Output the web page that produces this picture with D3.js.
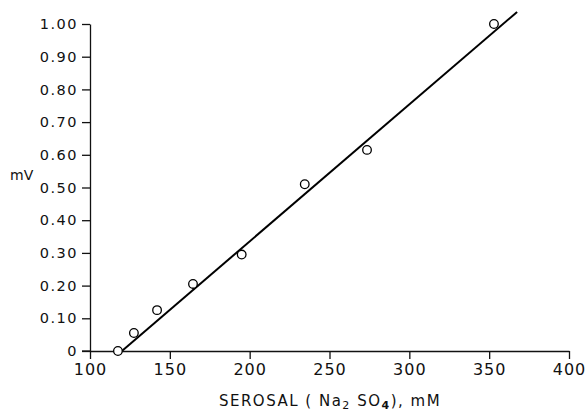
<!DOCTYPE html>
<html>
<head>
<meta charset="utf-8">
<script src="https://cdn.jsdelivr.net/npm/d3@7"></script>
<style>
  body { margin: 0; background: #fff; }
  svg text { font-family: "DejaVu Sans", sans-serif; fill: #111; }
</style>
</head>
<body>
<div id="chart"></div>
<script>
// measured points, serosal Na2SO4 (mM) vs potential (mV)
var conc = [117.5, 127.5, 142, 164.5, 195, 234.5, 273.5, 353];
var mv = [0, 0.055, 0.125, 0.205, 0.295, 0.51, 0.615, 1.00];

// hand-drawn fit line end points
var fitX = [120, 367.5];
var fitY = [0, 1.037];

var xTicks = [100, 150, 200, 250, 300, 350, 400];
var yTicks = [0, 0.1, 0.2, 0.3, 0.4, 0.5, 0.6, 0.7, 0.8, 0.9, 1.0];

var width = 588, height = 413;
var margin = {top: 24, right: 19, bottom: 62, left: 90};

var svg = d3.select('#chart')
  .append('svg')
  .attr('width', width)
  .attr('height', height);

var x = d3.scaleLinear().domain([100, 400]).range([margin.left, width - margin.right]);
var y = d3.scaleLinear().domain([0, 1]).range([height - margin.bottom, margin.top]);

var xAxis = svg.append('g')
  .attr('transform', 'translate(0,' + y(0) + ')')
  .call(d3.axisBottom(x).tickValues(xTicks).tickSize(8).tickSizeOuter(0).tickPadding(5)
    .tickFormat(d3.format('d')));

var yAxis = svg.append('g')
  .attr('transform', 'translate(' + x(100) + ',0)')
  .call(d3.axisLeft(y).tickValues(yTicks).tickSize(8).tickSizeOuter(0).tickPadding(4)
    .tickFormat(function (d) { return d === 0 ? '0' : d.toFixed(2); }));

svg.selectAll('.domain, .tick line')
  .attr('stroke', '#111')
  .attr('stroke-width', 1.3);

xAxis.selectAll('text')
  .style('font-size', '16px')
  .style('letter-spacing', '1px');
yAxis.selectAll('text')
  .style('font-size', '14.5px')
  .style('letter-spacing', '1.5px');

// extend x axis line a little left of the y axis
svg.append('line')
  .attr('x1', x(100) - 8).attr('x2', x(100))
  .attr('y1', y(0)).attr('y2', y(0))
  .attr('stroke', '#111').attr('stroke-width', 1.3);

// fit line
svg.append('line')
  .attr('x1', x(fitX[0])).attr('y1', y(fitY[0]))
  .attr('x2', x(fitX[1])).attr('y2', y(fitY[1]))
  .attr('stroke', '#000')
  .attr('stroke-width', 2);

// points
svg.selectAll('.pt')
  .data(conc)
  .enter().append('circle')
  .attr('class', 'pt')
  .attr('cx', function (d) { return x(d); })
  .attr('cy', function (d, i) { return y(mv[i]); })
  .attr('r', 4.3)
  .attr('fill', '#fff')
  .attr('stroke', '#000')
  .attr('stroke-width', 1.3);

// y label
svg.append('text')
  .attr('x', 10)
  .attr('y', 180)
  .style('font-size', '14px')
  .text('mV');

// x label
var xl = svg.append('text')
  .attr('x', 330)
  .attr('y', 406)
  .attr('text-anchor', 'middle')
  .style('font-size', '15px')
  .style('letter-spacing', '1.5px');
xl.append('tspan').text('SEROSAL ( Na');
xl.append('tspan').attr('dy', 2.5).style('font-size', '11px').text('2');
xl.append('tspan').attr('dy', -2.5).text(' SO');
xl.append('tspan').attr('dy', 2.5).style('font-size', '11px').style('font-weight', 'bold').text('4');
xl.append('tspan').attr('dy', -2.5).text('), mM');
</script>
</body>
</html>
